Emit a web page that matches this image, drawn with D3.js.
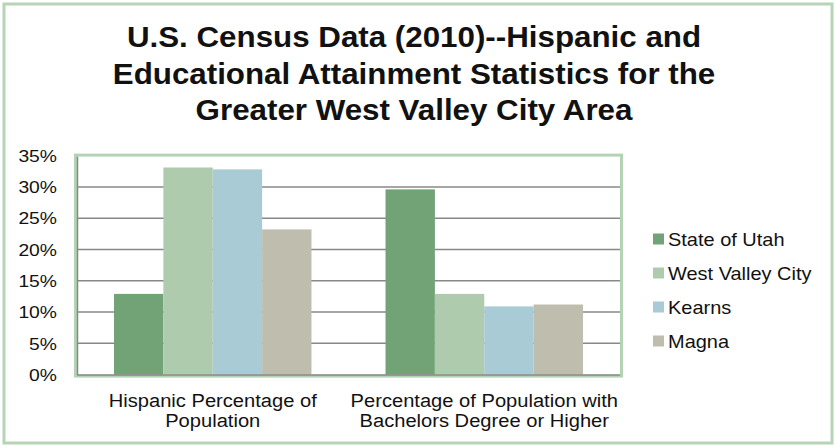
<!DOCTYPE html>
<html>
<head>
<meta charset="utf-8">
<script src="https://cdn.jsdelivr.net/npm/d3@7"></script>
<style>
  html, body { margin: 0; padding: 0; background: #fff; }
  svg { display: block; font-family: "Liberation Sans", Arial, sans-serif; }
</style>
</head>
<body>
<svg id="chart" width="835" height="446"></svg>
<script>
// Census 2010 figures, percent
const titleLines = [
  "U.S. Census Data (2010)--Hispanic and",
  "Educational Attainment Statistics for the",
  "Greater West Valley City Area"
];
const categories = [
  ["Hispanic Percentage of", "Population"],
  ["Percentage of Population with", "Bachelors Degree or Higher"]
];
const seriesNames = ["State of Utah", "West Valley City", "Kearns", "Magna"];
const stateOfUtah    = [12.9, 29.6];
const westValleyCity = [33.1, 12.9];
const kearns         = [32.8, 10.9];
const magna          = [23.2, 11.2];
const yTicks = [0, 5, 10, 15, 20, 25, 30, 35];

const seriesValues = [stateOfUtah, westValleyCity, kearns, magna];
const colors = ["#71a376", "#aecbad", "#a8cbd6", "#bfbdae"];

const svg = d3.select("#chart");

// outer chart frame
svg.append("rect")
  .attr("x", 4).attr("y", 4).attr("width", 828).attr("height", 439)
  .attr("fill", "#fff").attr("stroke", "#b7d4b7").attr("stroke-width", 3);

// helper: text with a horizontal stretch
function stretchedText(sel, x, y, str, size, sx, anchor, weight) {
  return sel.append("text")
    .attr("transform", `translate(${x},${y}) scale(${sx},1)`)
    .attr("text-anchor", anchor)
    .attr("font-size", size)
    .attr("font-weight", weight || "normal")
    .attr("fill", "#111")
    .text(str);
}

// title
const titleBaselines = [47, 83.5, 120];
titleLines.forEach((t, i) => stretchedText(svg, 414, titleBaselines[i], t, 29, 1.08, "middle", "bold"));

// plot area
const plot = { left: 77, right: 620, top: 155.6, bottom: 374.6 };
const x0 = d3.scaleBand().domain(d3.range(categories.length))
  .range([plot.left, plot.right]).paddingInner(0).paddingOuter(0);
const barW = x0.bandwidth() / 5.5;
const y = d3.scaleLinear().domain([0, 35]).range([plot.bottom, plot.top]);

// plot border
svg.append("rect")
  .attr("x", plot.left - 1.5).attr("y", plot.top - 0.5)
  .attr("width", plot.right - plot.left + 3).attr("height", plot.bottom - plot.top + 2)
  .attr("fill", "#fff").attr("stroke", "#b4d3b4").attr("stroke-width", 3);

// gridlines
svg.append("g").selectAll("line")
  .data(yTicks.filter(d => d > 0 && d < 35))
  .join("line")
  .attr("x1", plot.left).attr("x2", plot.right)
  .attr("y1", d => y(d)).attr("y2", d => y(d))
  .attr("stroke", "#888").attr("stroke-width", 1.5);

// bars
const groups = svg.append("g").selectAll("g")
  .data(categories.map((c, i) => i))
  .join("g");
groups.selectAll("rect")
  .data(ci => seriesValues.map((vals, si) => ({ si, v: vals[ci], ci })))
  .join("rect")
  .attr("x", d => x0(d.ci) + barW * 0.75 + d.si * barW)
  .attr("width", barW)
  .attr("y", d => y(d.v))
  .attr("height", d => y(0) - y(d.v))
  .attr("fill", d => colors[d.si]);

// axis lines
svg.append("line")
  .attr("x1", plot.left + 0.5).attr("x2", plot.left + 0.5)
  .attr("y1", plot.top + 1).attr("y2", plot.bottom + 0.5)
  .attr("stroke", "#888").attr("stroke-width", 1.5);
svg.append("line")
  .attr("x1", plot.left).attr("x2", plot.right)
  .attr("y1", plot.bottom + 0.5).attr("y2", plot.bottom + 0.5)
  .attr("stroke", "#888").attr("stroke-width", 1.5);

// y tick labels
yTicks.forEach(t => stretchedText(svg, 57, y(t) + 6.2, t + "%", 16.5, 1.17, "end"));

// category labels
categories.forEach((lines, i) => {
  const cx = x0(i) + x0.bandwidth() / 2;
  lines.forEach((ln, j) => stretchedText(svg, cx, 406.7 + j * 20, ln, 19, 1.06, "middle"));
});

// legend
const legendBaselines = [246, 280, 314, 348];
seriesNames.forEach((name, i) => {
  svg.append("rect")
    .attr("x", 653).attr("y", legendBaselines[i] - 12.5)
    .attr("width", 11).attr("height", 11)
    .attr("fill", colors[i]);
  stretchedText(svg, 668, legendBaselines[i], name, 18, 1.11, "start");
});
</script>
</body>
</html>
